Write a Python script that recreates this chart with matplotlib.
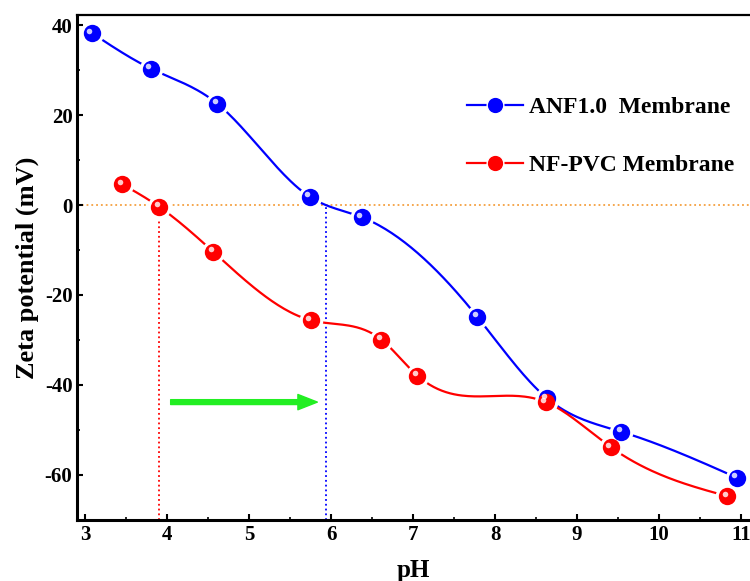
import numpy as np
import matplotlib
matplotlib.use("Agg")
import matplotlib.pyplot as plt
from matplotlib.lines import Line2D
from matplotlib.transforms import offset_copy

# values
ph_anf = [3.08, 3.80, 4.61, 5.74, 6.37, 7.78, 8.63, 9.54, 10.95]
zeta_anf = [38.2, 30.3, 22.5, 1.8, -2.7, -24.8, -42.9, -50.4, -60.6]
ph_pvc = [3.45, 3.90, 4.56, 5.75, 6.61, 7.05, 8.62, 9.41, 10.83]
zeta_pvc = [4.6, -0.4, -10.4, -25.6, -29.9, -37.9, -43.8, -53.8, -64.7]
iep_pvc = 3.90
iep_anf = 5.94
arrow_y = -43.8
labels = ["ANF1.0  Membrane", "NF-PVC Membrane"]


def natural_spline(x, y, n=300):
    # plain natural cubic spline, no scipy needed
    x = np.asarray(x, float)
    y = np.asarray(y, float)
    k = len(x)
    h = np.diff(x)
    A = np.zeros((k, k))
    b = np.zeros(k)
    A[0, 0] = A[-1, -1] = 1
    for i in range(1, k - 1):
        A[i, i - 1] = h[i - 1]
        A[i, i] = 2 * (h[i - 1] + h[i])
        A[i, i + 1] = h[i]
        b[i] = 6 * ((y[i + 1] - y[i]) / h[i] - (y[i] - y[i - 1]) / h[i - 1])
    M = np.linalg.solve(A, b)
    xs = np.linspace(x[0], x[-1], n)
    idx = np.clip(np.searchsorted(x, xs) - 1, 0, k - 2)
    x0, x1 = x[idx], x[idx + 1]
    hh = x1 - x0
    t0, t1 = x1 - xs, xs - x0
    ys = (M[idx] * t0**3 + M[idx + 1] * t1**3) / (6 * hh) \
        + (y[idx] / hh - M[idx] * hh / 6) * t0 \
        + (y[idx + 1] / hh - M[idx + 1] * hh / 6) * t1
    return xs, ys


plt.rcParams['font.family'] = ['Liberation Serif', 'DejaVu Serif']
plt.rcParams['font.weight'] = 'bold'
plt.rcParams['axes.unicode_minus'] = False

fig = plt.figure(figsize=(7.5, 5.81), dpi=100)
ax = fig.add_axes([0.103, 0.105, 0.897, 0.869])

# reference lines
ax.axhline(0, color='#f5a040', ls=':', lw=1.3, zorder=1)
ax.plot([iep_pvc, iep_pvc], [-70, 0], color='red', ls=':', lw=1.3, zorder=1)
ax.plot([iep_anf, iep_anf], [-70, 0], color='blue', ls=':', lw=1.3, zorder=1)

ax.annotate('', xy=(5.83, arrow_y), xytext=(4.04, arrow_y),
            arrowprops=dict(color='#22ee22', width=3.5, headwidth=11,
                            headlength=14, shrink=0), zorder=2)

hl = offset_copy(ax.transData, fig=fig, x=-1.8, y=1.8, units='points')
for xs, ys, col in [(ph_anf, zeta_anf, 'blue'), (ph_pvc, zeta_pvc, 'red')]:
    sx, sy = natural_spline(xs, ys)
    ax.plot(sx, sy, color=col, lw=1.6, zorder=3)
    ax.plot(xs, ys, 'o', ms=13, mfc=col, mec='white', mew=4, zorder=4)
    ax.plot(xs, ys, 'o', ms=12.5, mfc=col, mec='none', zorder=5)
    ax.plot(xs, ys, 'o', ms=4, mfc='white', mec='none', alpha=0.8,
            transform=hl, zorder=6)

ax.set_xlim(2.9, 11.11)
ax.set_ylim(-70, 42.2)
ax.set_xticks(range(3, 12))
ax.set_yticks([-60, -40, -20, 0, 20, 40])
ax.set_xticks(np.arange(3.5, 11, 1), minor=True)
ax.set_yticks(np.arange(-50, 40, 20), minor=True)
ax.tick_params(which='major', direction='in', length=4, width=1.5,
               labelsize=15)
ax.tick_params(which='minor', direction='in', length=2.5, width=1.2)
for t in ax.get_xticklabels() + ax.get_yticklabels():
    t.set_fontweight('bold')

ax.spines['left'].set_linewidth(2.2)
ax.spines['bottom'].set_linewidth(2.2)
ax.spines['top'].set_linewidth(1.6)
ax.spines['right'].set_visible(False)

ax.set_xlabel('pH', fontsize=18, fontweight='bold', labelpad=10)
ax.set_ylabel('Zeta potential (mV)', fontsize=19, fontweight='bold',
              labelpad=4)

handles = [Line2D([], [], color=c, lw=1.6, marker='o', ms=12, mfc=c,
                  mec='white', mew=1) for c in ['blue', 'red']]
ax.legend(handles, labels, loc='upper left', bbox_to_anchor=(0.5655, 0.857),
          borderaxespad=0, frameon=False, prop={'weight': 'bold', 'size': 17},
          handlelength=2.35, labelspacing=1.55, handletextpad=0.25)

fig.savefig('out.png', dpi=100)
